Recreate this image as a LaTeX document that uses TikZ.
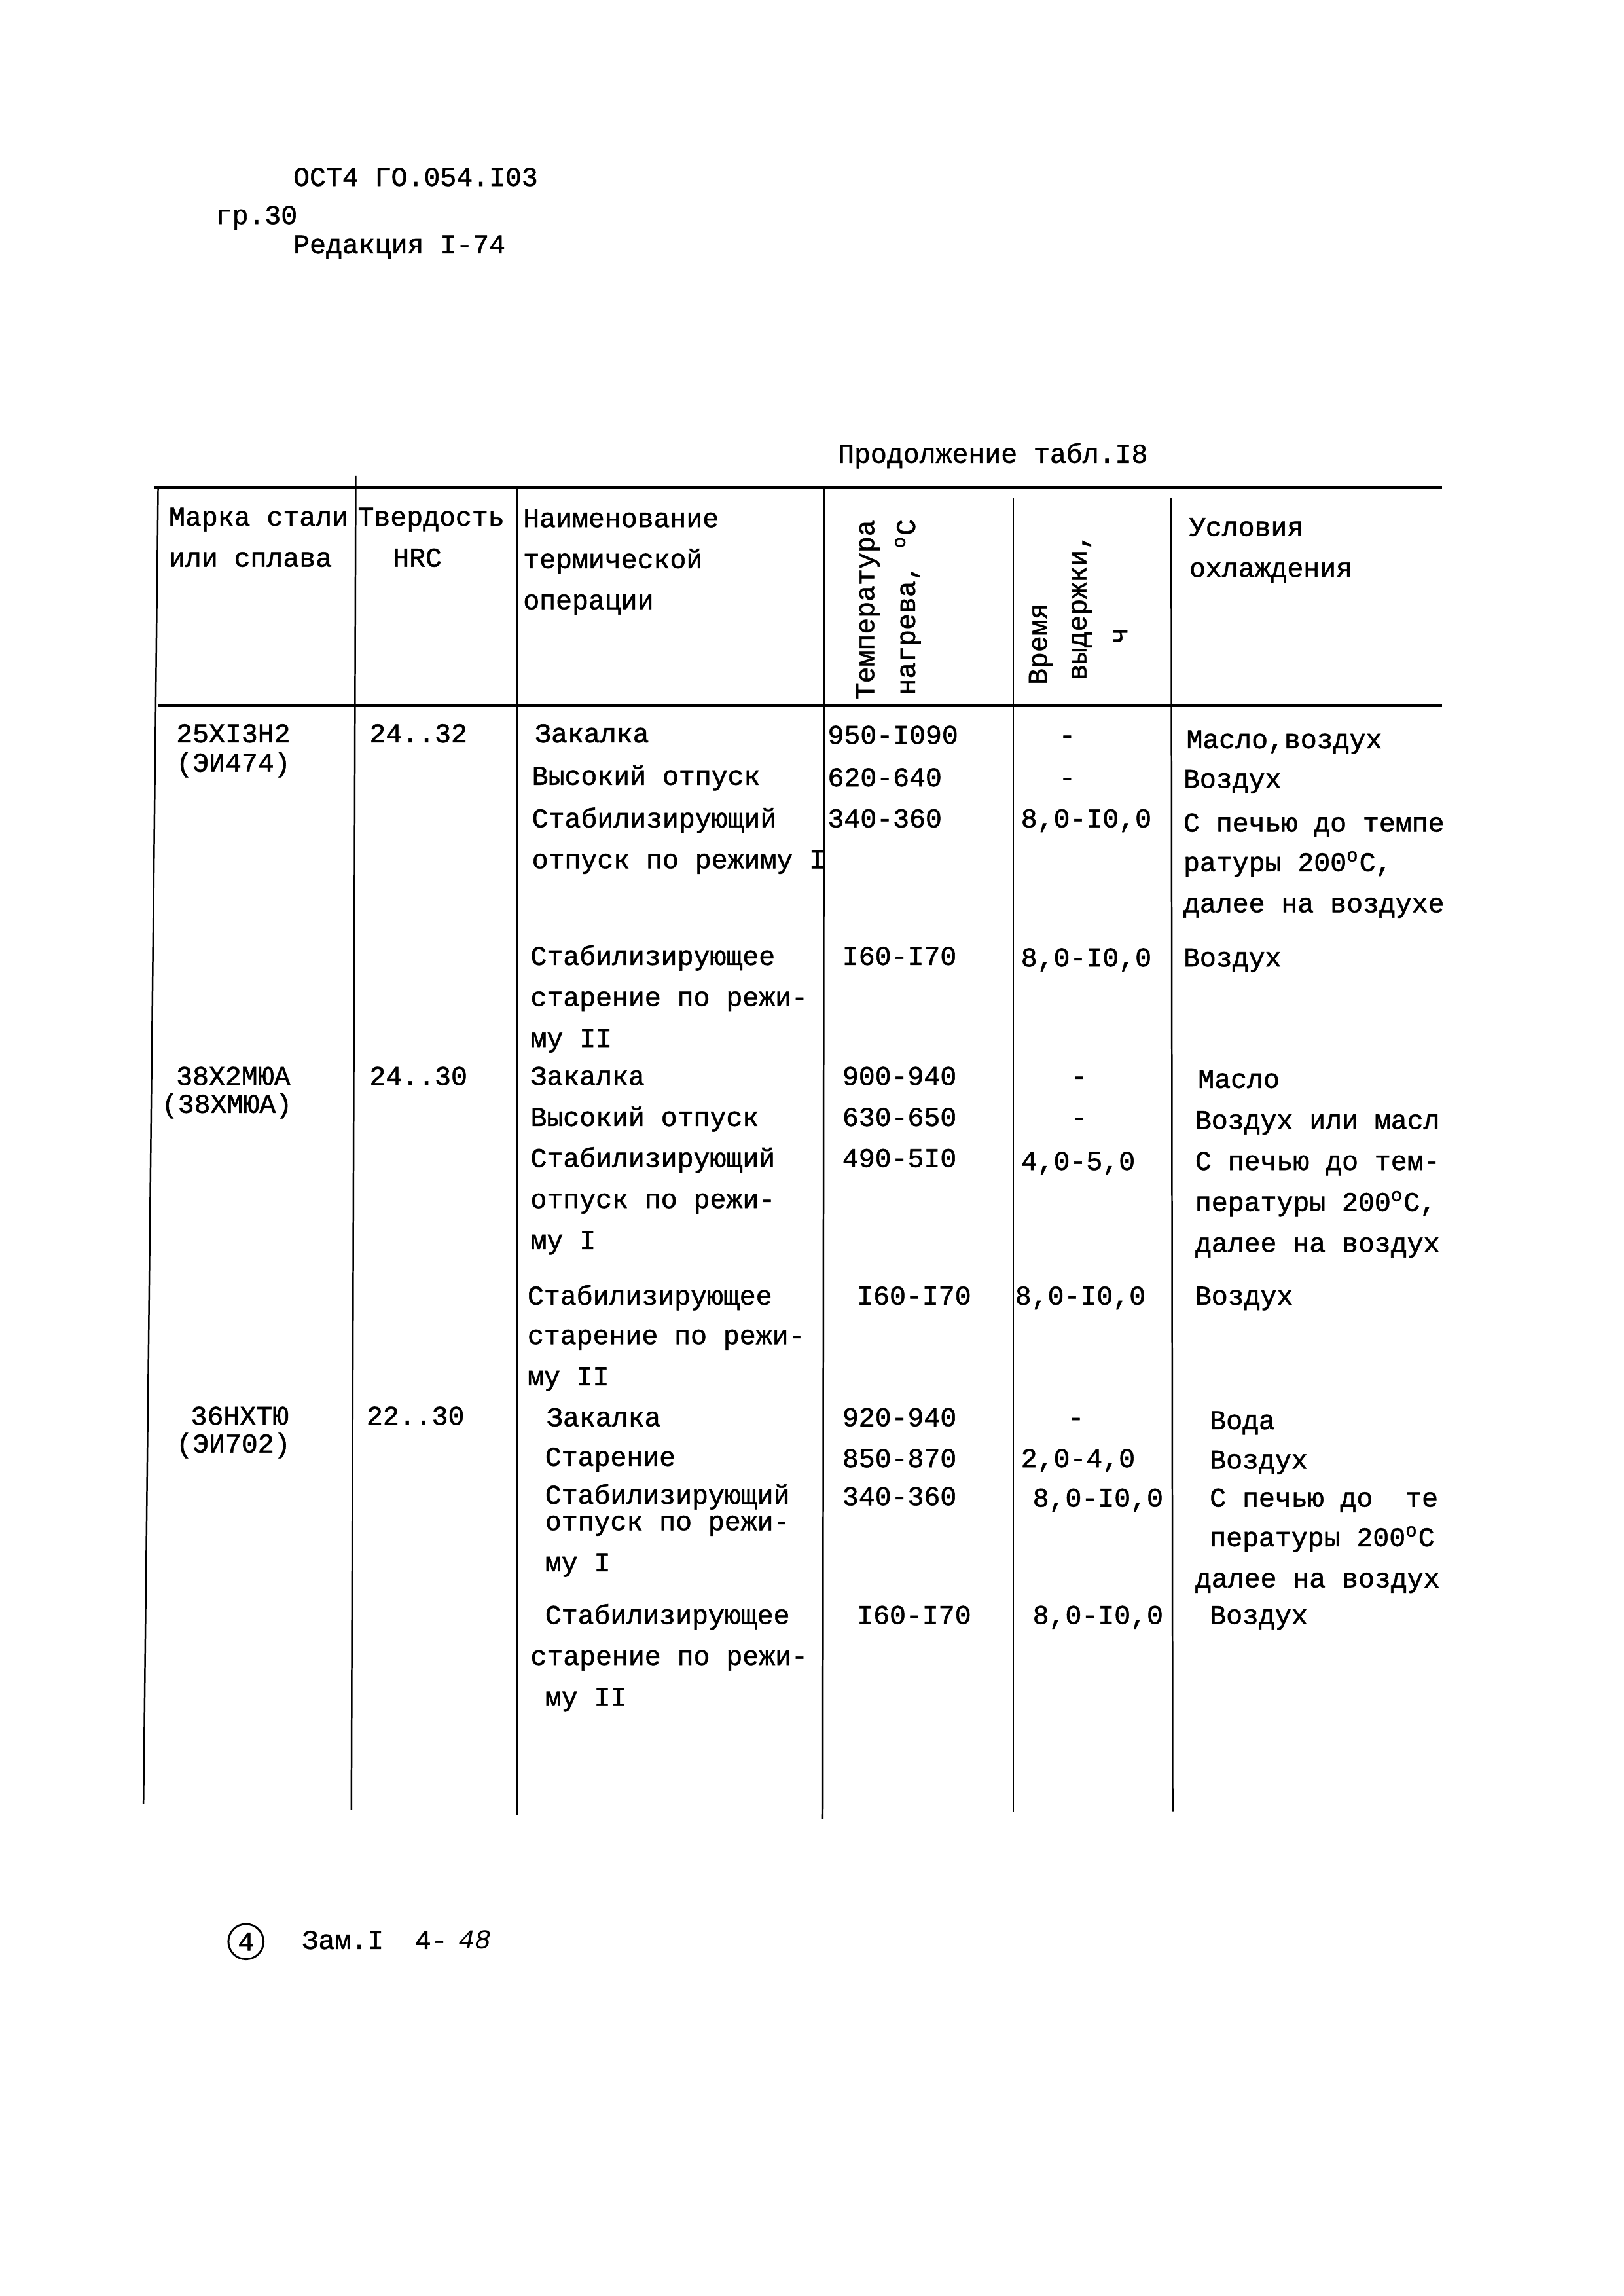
\documentclass[tikz,border=0pt]{standalone}
\usepackage{fontspec}
\setmainfont{Liberation Mono}[AutoFakeBold=1.3]
\tikzset{
	txt/.style={anchor=base west,inner sep=0pt,font=\bfseries},
	vert/.style={anchor=base west,inner sep=0pt,rotate=90,font=\bfseries},
	hline/.style={line width=0.9pt},
	vline/.style={line width=0.6pt}
}
\begin{document}
\begin{tikzpicture}[x=0.18936mm,y=-0.18936mm]
	\useasboundingbox (0,0) rectangle (1109,1568);
	%Shapka lista
	\node[txt] (ost) at (200,127) {ОСТ4 ГО.054.I03};
	\node[txt] (gr) at (147,153) {гр.30};
	\node[txt] (red) at (200,173) {Редакция I-74};
	\node[txt] (prod) at (572,316) {Продолжение табл.I8};
	%Linii tablicy
	\draw[hline] (105,333) -- (985,333);
	\draw[hline] (108,482) -- (985,482);
	\draw[vline] (108,333) -- (98,1232);
	\draw[vline] (243,325) -- (240,1236);
	\draw[vline] (353,333) -- (353,1240);
	\draw[vline] (563,333) -- (562,1242);
	\draw[vline] (692,340) -- (692,1237);
	\draw[vline] (800,340) -- (801,1237);
	%Zagolovok
	\node[txt] (h1a) at (115,359) {Марка стали};
	\node[txt] (h1b) at (115,387) {или сплава};
	\node[txt] (h2a) at (244,359) {Твердость};
	\node[txt] (h2b) at (268,387) {HRC};
	\node[txt] (h3a) at (357,360) {Наименование};
	\node[txt] (h3b) at (357,388) {термической};
	\node[txt] (h3c) at (357,416) {операции};
	\node[vert] (h4a) at (597,478) {Температура};
	\node[vert] (h4b) at (625,475) {нагрева, \textsuperscript{o}С};
	\node[vert] (h5a) at (715,468) {Время};
	\node[vert] (h5b) at (742,465) {выдержки,};
	\node[vert] (h5c) at (770,440) {ч};
	\node[txt] (h6a) at (812,366) {Условия};
	\node[txt] (h6b) at (812,394) {охлаждения};
	%Stroka 1
	\node[txt] (a1) at (120,507) {25ХI3Н2};
	\node[txt] (a2) at (120,527) {(ЭИ474)};
	\node[txt] (a3) at (252,507) {24..32};
	\node[txt] (a4) at (365,507) {Закалка};
	\node[txt] (a5) at (363,536) {Высокий отпуск};
	\node[txt] (a6) at (363,565) {Стабилизирующий};
	\node[txt] (a7) at (363,593) {отпуск по режиму I};
	\node[txt] (a8) at (565,508) {950-I090};
	\node[txt] (a9) at (565,537) {620-640};
	\node[txt] (a10) at (565,565) {340-360};
	\node[txt] (a11) at (723,508) {-};
	\node[txt] (a12) at (723,537) {-};
	\node[txt] (a13) at (697,565) {8,0-I0,0};
	\node[txt] (a14) at (810,511) {Масло,воздух};
	\node[txt] (a15) at (808,538) {Воздух};
	\node[txt] (a16) at (808,568) {С печью до темпе};
	\node[txt] (a17) at (808,595) {ратуры 200\textsuperscript{o}С,};
	\node[txt] (a18) at (808,623) {далее на воздухе};
	\node[txt] (a19) at (362,659) {Стабилизирующее};
	\node[txt] (a20) at (362,687) {старение по режи-};
	\node[txt] (a21) at (362,715) {му II};
	\node[txt] (a22) at (575,659) {I60-I70};
	\node[txt] (a23) at (697,660) {8,0-I0,0};
	\node[txt] (a24) at (808,660) {Воздух};
	%Stroka 2
	\node[txt] (b1) at (120,741) {38Х2МЮА};
	\node[txt] (b2) at (110,760) {(38ХМЮА)};
	\node[txt] (b3) at (252,741) {24..30};
	\node[txt] (b4) at (362,741) {Закалка};
	\node[txt] (b5) at (362,769) {Высокий отпуск};
	\node[txt] (b6) at (362,797) {Стабилизирующий};
	\node[txt] (b7) at (362,825) {отпуск по режи-};
	\node[txt] (b8) at (362,853) {му I};
	\node[txt] (b9) at (575,741) {900-940};
	\node[txt] (b10) at (575,769) {630-650};
	\node[txt] (b11) at (575,797) {490-5I0};
	\node[txt] (b12) at (731,741) {-};
	\node[txt] (b13) at (731,769) {-};
	\node[txt] (b14) at (697,799) {4,0-5,0};
	\node[txt] (b15) at (818,743) {Масло};
	\node[txt] (b16) at (816,771) {Воздух или масл};
	\node[txt] (b17) at (816,799) {С печью до тем-};
	\node[txt] (b18) at (816,827) {пературы 200\textsuperscript{o}С,};
	\node[txt] (b19) at (816,855) {далее на воздух};
	\node[txt] (b20) at (360,891) {Стабилизирующее};
	\node[txt] (b21) at (360,918) {старение по режи-};
	\node[txt] (b22) at (360,946) {му II};
	\node[txt] (b23) at (585,891) {I60-I70};
	\node[txt] (b24) at (693,891) {8,0-I0,0};
	\node[txt] (b25) at (816,891) {Воздух};
	%Stroka 3
	\node[txt] (c1) at (130,973) {36НХТЮ};
	\node[txt] (c2) at (120,992) {(ЭИ702)};
	\node[txt] (c3) at (250,973) {22..30};
	\node[txt] (c4) at (373,974) {Закалка};
	\node[txt] (c5) at (372,1001) {Старение};
	\node[txt] (c6) at (372,1027) {Стабилизирующий};
	\node[txt] (c7) at (372,1045) {отпуск по режи-};
	\node[txt] (c8) at (372,1073) {му I};
	\node[txt] (c9) at (575,974) {920-940};
	\node[txt] (c10) at (575,1002) {850-870};
	\node[txt] (c11) at (575,1028) {340-360};
	\node[txt] (c12) at (729,974) {-};
	\node[txt] (c13) at (697,1002) {2,0-4,0};
	\node[txt] (c14) at (705,1029) {8,0-I0,0};
	\node[txt] (c15) at (826,976) {Вода};
	\node[txt] (c16) at (826,1003) {Воздух};
	\node[txt] (c17) at (826,1029) {С печью до\ \ те};
	\node[txt] (c18) at (826,1056) {пературы 200\textsuperscript{o}С};
	\node[txt] (c19) at (816,1084) {далее на воздух};
	\node[txt] (c20) at (372,1109) {Стабилизирующее};
	\node[txt] (c21) at (362,1137) {старение по режи-};
	\node[txt] (c22) at (372,1165) {му II};
	\node[txt] (c23) at (585,1109) {I60-I70};
	\node[txt] (c24) at (705,1109) {8,0-I0,0};
	\node[txt] (c25) at (826,1109) {Воздух};
	%Podval
	\node[circle,draw,line width=0.7pt,inner sep=1pt,minimum size=24*0.18936mm,font=\bfseries] (num) at (168,1326) {4};
	\node[txt] (zam) at (206,1331) {Зам.I};
	\node[txt] (zn) at (283,1331) {4-};
	\node[txt] (zr) at (313,1331) {\itshape 48};
\end{tikzpicture}
\end{document}
